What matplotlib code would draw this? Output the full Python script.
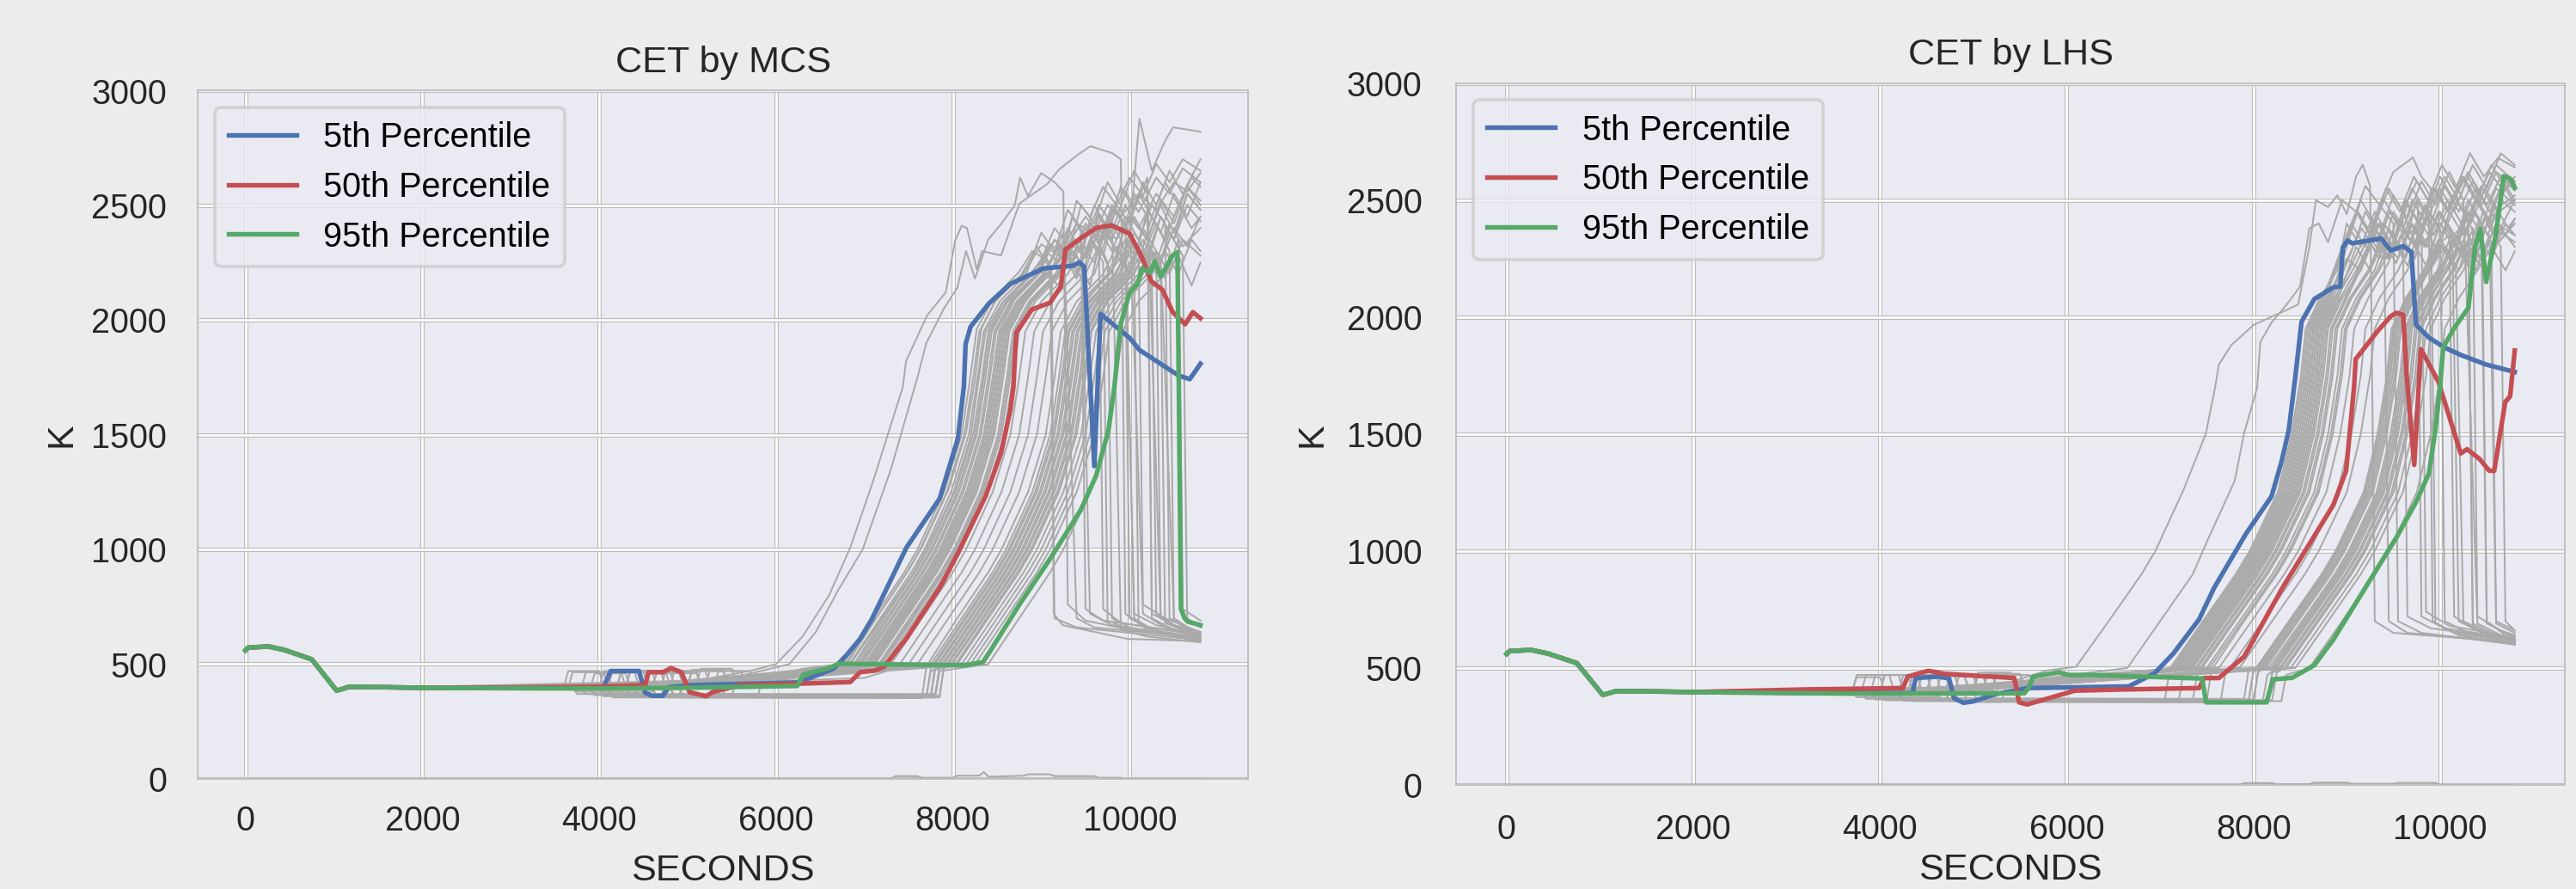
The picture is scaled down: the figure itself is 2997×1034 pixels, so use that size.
import matplotlib
matplotlib.use("Agg")
import matplotlib.pyplot as plt
import matplotlib.patheffects as pe

# ---------------- data ----------------
TITLES = ["CET by MCS", "CET by LHS"]
X_LABEL = "SECONDS"
Y_LABEL = "K"
LEGEND_LABELS = ["5th Percentile", "50th Percentile", "95th Percentile"]
X_TICKS = [0, 2000, 4000, 6000, 8000, 10000]
Y_TICKS = [0, 500, 1000, 1500, 2000, 2500, 3000]

# common start of every run (s, K)
START_T = [0, 30, 260, 440, 750, 1030, 1080, 1170]
START_K = [560, 572, 577, 562, 521, 385, 390, 401]

# ---- MCS percentile runs ----
P5_MCS_T = [1500, 2000, 3000, 4050, 4130, 4450, 4520, 4600, 4720, 4790, 5070, 6250, 6450, 6650, 6800, 6950,
            7085, 7475, 7850, 8057, 8124, 8144, 8200, 8406, 8650, 9030, 9360, 9430, 9485, 9600, 9670, 10000,
            10110, 10555, 10680, 10800]
P5_MCS_K = [400, 397, 396, 400, 470, 470, 375, 362, 362, 400, 409, 420, 450, 480, 540, 610,
            697, 1008, 1221, 1483, 1708, 1895, 1970, 2071, 2157, 2225, 2236, 2251, 2232, 1363, 2026, 1921,
            1869, 1757, 1742, 1809]
P50_MCS_T = [1500, 2000, 3000, 4000, 4520, 4560, 4725, 4810, 4930, 5022, 5210, 5280, 5597, 6254, 6840, 6950,
             7120, 7226, 7470, 7855, 8060, 8370, 8545, 8650, 8685, 8717, 8892, 9100, 9222, 9273, 9447, 9621,
             9796, 10000, 10141, 10242, 10370, 10486, 10627, 10714, 10800]
P50_MCS_K = [400, 397, 398, 402, 409, 465, 465, 483, 465, 378, 360, 378, 409, 415, 422, 465,
             472, 490, 610, 835, 985, 1232, 1420, 1607, 1708, 1944, 2045, 2075, 2146, 2307, 2356, 2401,
             2412, 2375, 2270, 2169, 2131, 2034, 1981, 2034, 2007]
P95_MCS_T = [1500, 2000, 3000, 4000, 5000, 6240, 6310, 6600, 6710, 7500, 8130, 8340, 8406, 8753, 9100, 9447,
             9621, 9760, 9827, 9897, 10000, 10090, 10141, 10230, 10283, 10350, 10486, 10540, 10580, 10620,
             10660, 10800]
P95_MCS_K = [400, 397, 395, 394, 397, 405, 455, 483, 502, 498, 495, 509, 547, 760, 959, 1172,
             1322, 1520, 1708, 1981, 2120, 2157, 2226, 2206, 2255, 2188, 2281, 2295, 740, 700,
             685, 670]

# ---- LHS percentile runs ----
P5_LHS_T = [1500, 2000, 3000, 4348, 4382, 4621, 4740, 4792, 4894, 4997, 5235, 5576, 6664, 6940, 7141, 7419,
            7580, 7921, 8194, 8300, 8378, 8448, 8516, 8653, 8857, 8930, 8958, 9010, 9060, 9369, 9471, 9604,
            9692, 9742, 9880, 10046, 10221, 10493, 10800]
P5_LHS_K = [400, 397, 396, 392, 457, 463, 455, 371, 351, 357, 388, 414, 421, 477, 561, 708,
            843, 1074, 1233, 1380, 1514, 1740, 1980, 2077, 2127, 2130, 2297, 2327, 2315, 2336, 2284, 2303,
            2278, 1967, 1912, 1870, 1838, 1797, 1765]
P50_LHS_T = [1500, 2000, 3190, 4246, 4295, 4517, 4689, 5438, 5490, 5576, 6087, 6599, 7417, 7474, 7630, 7902,
             8311, 8857, 8993, 9078, 9096, 9335, 9471, 9530, 9604, 9640, 9723, 9794, 9982, 10221, 10289,
             10424, 10526, 10580, 10698, 10750, 10800]
P50_LHS_K = [400, 397, 408, 414, 463, 488, 475, 457, 353, 344, 403, 408, 414, 457, 457, 549,
             842, 1197, 1343, 1698, 1820, 1942, 2003, 2018, 2010, 1760, 1368, 1863, 1723, 1417, 1435,
             1393, 1343, 1343, 1637, 1661, 1857]
P95_LHS_T = [1500, 2000, 3000, 4000, 5545, 5593, 5640, 5917, 6020, 6258, 7451, 7493, 8141, 8209, 8415, 8653,
             8857, 9198, 9539, 9742, 9880, 9948, 10000, 10033, 10153, 10304, 10374, 10433, 10493, 10595,
             10682, 10756, 10800]
P95_LHS_K = [400, 397, 392, 390, 392, 414, 463, 481, 470, 470, 455, 353, 353, 451, 458, 512,
             622, 842, 1062, 1209, 1331, 1514, 1700, 1870, 1954, 2040, 2297, 2376, 2150, 2347,
             2602, 2590, 2553]

# ---- individual MCS runs (grey), each continues START ----
MCS_RUNS = [
    [(1500, 397), (3600, 398), (3650, 470), (4000, 470), (4050, 400), (5000, 420), (5700, 470), (6000, 500), (6300, 620), (6600, 800), (6840, 1008), (7100, 1300), (7435, 1708), (7470, 1820), (7710, 2020), (7920, 2120), (8025, 2345), (8100, 2410), (8160, 2400), (8270, 2220), (8330, 2300), (8545, 2281), (8753, 2507), (9070, 2593), (9200, 2655), (9410, 2719), (9555, 2757), (9800, 2727), (9900, 2700), (9950, 720), (10200, 650), (10800, 610)],
    [(1500, 396), (4300, 395), (4350, 365), (4700, 365), (4750, 410), (5500, 440), (6150, 500), (6450, 640), (6700, 820), (6980, 1000), (7300, 1350), (7600, 1750), (7700, 1900), (7900, 2050), (8050, 2140), (8150, 2300), (8250, 2180), (8400, 2350), (8550, 2420), (8700, 2500), (8760, 2620), (8850, 2540), (9000, 2640), (9150, 2600), (9250, 2560), (9300, 760), (9500, 690), (10000, 650), (10800, 620)],
    [(1500, 398), (4100, 399), (4150, 470), (4500, 470), (4550, 405), (5800, 430), (6300, 480), (6750, 500), (7100, 700), (7450, 900), (7600, 1000), (7900, 1250), (8100, 1500), (8200, 1760), (8270, 1960), (8450, 2090), (8750, 2210), (8900, 2300), (9100, 2250), (9250, 2380), (9400, 700), (9600, 660), (10800, 615)],
    [(1500, 397), (3900, 395), (3950, 372), (4400, 372), (4450, 398), (6000, 420), (6500, 470), (6800, 500), (7150, 710), (7500, 910), (7650, 1010), (7950, 1260), (8150, 1510), (8250, 1740), (8320, 1960), (8500, 2100), (8800, 2200), (9000, 2330), (9200, 2280), (9400, 2420), (9600, 2380), (9750, 2500), (9900, 2450), (10100, 2550), (10300, 2480), (10500, 2600), (10650, 2560), (10800, 2640)],
    [(1500, 396), (4600, 398), (4650, 460), (5100, 460), (5150, 410), (6000, 440), (6500, 490), (6850, 505), (7200, 700), (7550, 895), (7700, 1000), (8000, 1240), (8200, 1490), (8300, 1760), (8370, 1950), (8550, 2070), (8850, 2190), (9050, 2280), (9120, 2200), (9140, 720), (9240, 670), (9975, 610), (10800, 600)],
    [(1500, 397), (3700, 398), (3750, 380), (4600, 380), (4650, 405), (6000, 430), (6880, 500), (7230, 705), (7580, 905), (7730, 1005), (8030, 1255), (8230, 1505), (8330, 1745), (8400, 1950), (8580, 2085), (8880, 2200), (9000, 2260), (9150, 2400), (9300, 2330), (9500, 2450), (9650, 2380), (9700, 740), (9900, 680), (10800, 625)],
    [(1500, 398), (4800, 400), (4850, 470), (5200, 470), (5250, 420), (6920, 495), (7270, 700), (7620, 900), (7770, 1000), (8070, 1250), (8270, 1500), (8370, 1750), (8440, 1950), (8620, 2080), (8920, 2190), (9100, 2330), (9250, 2290), (9400, 2520), (9550, 2450), (9700, 2580), (9850, 2500), (10000, 2620), (10150, 2540), (10300, 2680), (10450, 2600), (10600, 2700), (10800, 2650)],
    [(1500, 396), (4000, 396), (4050, 365), (4500, 365), (4550, 400), (6950, 500), (7300, 700), (7650, 900), (7800, 1000), (8100, 1250), (8300, 1500), (8400, 1750), (8470, 1950), (8650, 2080), (8950, 2200), (9150, 2350), (9350, 2280), (9500, 2400), (9650, 2300), (9800, 2480), (9950, 2420), (10050, 700), (10300, 640), (10800, 610)],
    [(1500, 397), (5100, 420), (5150, 480), (5500, 480), (5550, 430), (7000, 500), (7350, 700), (7700, 900), (7850, 1000), (8150, 1250), (8350, 1500), (8450, 1750), (8520, 1950), (8700, 2090), (9000, 2210), (9200, 2150), (9350, 2350), (9500, 2280), (9650, 2450), (9800, 2350), (9950, 2500), (10100, 2400), (10300, 2550), (10500, 2450), (10650, 2580), (10800, 2520)],
    [(1500, 398), (4200, 400), (4250, 470), (4600, 470), (4650, 400), (7040, 500), (7390, 700), (7740, 900), (7890, 1000), (8190, 1250), (8390, 1500), (8490, 1750), (8560, 1950), (8740, 2080), (9040, 2200), (9200, 2320), (9350, 2250), (9450, 2380), (9500, 740), (9700, 690), (10800, 630)],
    [(1500, 397), (4400, 398), (4450, 362), (4900, 362), (4950, 405), (7080, 500), (7430, 700), (7780, 900), (7930, 1000), (8230, 1250), (8430, 1500), (8530, 1750), (8600, 1950), (8780, 2080), (9080, 2200), (9250, 2300), (9400, 2200), (9550, 2420), (9700, 2350), (9850, 2480), (10000, 2380), (10110, 2876), (10250, 2650), (10400, 2780), (10490, 2839), (10800, 2820)],
    [(1500, 396), (3800, 397), (3850, 465), (4250, 465), (4300, 398), (7120, 500), (7470, 700), (7820, 900), (7970, 1000), (8270, 1250), (8470, 1500), (8570, 1750), (8640, 1950), (8820, 2080), (9120, 2220), (9300, 2300), (9450, 2180), (9600, 2380), (9750, 2250), (9800, 700), (10000, 660), (10800, 600)],
    [(1500, 397), (5300, 430), (5350, 370), (5800, 370), (5850, 440), (7160, 500), (7510, 700), (7860, 900), (8010, 1000), (8310, 1250), (8510, 1500), (8610, 1750), (8680, 1950), (8860, 2080), (9160, 2200), (9350, 2330), (9500, 2270), (9650, 2460), (9800, 2380), (9950, 2560), (10100, 2470), (10300, 2620), (10450, 2550), (10600, 2660), (10800, 2600)],
    [(1500, 398), (4500, 400), (4550, 470), (4900, 470), (4950, 410), (7200, 500), (7550, 700), (7900, 900), (8050, 1000), (8350, 1250), (8550, 1500), (8650, 1750), (8720, 1950), (8900, 2080), (9200, 2200), (9400, 2350), (9550, 2300), (9700, 2420), (9850, 2350), (10000, 2450), (10150, 720), (10400, 660), (10800, 620)],
    [(1500, 397), (3700, 398), (3750, 370), (4100, 370), (4150, 400), (7230, 500), (7580, 700), (7930, 900), (8080, 1000), (8380, 1250), (8580, 1500), (8680, 1750), (8750, 1950), (8930, 2080), (9230, 2200), (9400, 2280), (9550, 2150), (9700, 2400), (9850, 2300), (10000, 2450), (10200, 2350), (10350, 2500), (10500, 2380), (10650, 2550), (10800, 2480)],
    [(1500, 396), (4600, 395), (4650, 360), (5000, 360), (5050, 400), (7300, 500), (7650, 700), (8000, 900), (8150, 1000), (8450, 1250), (8650, 1500), (8750, 1750), (8820, 1950), (9000, 2080), (9300, 2200), (9450, 2330), (9600, 2250), (9750, 2450), (9900, 2350), (10050, 2550), (10200, 2450), (10250, 700), (10500, 650), (10800, 610)],
    [(1500, 397), (4000, 398), (4050, 470), (4400, 470), (4450, 400), (7400, 500), (7750, 700), (8100, 900), (8250, 1000), (8550, 1250), (8750, 1500), (8850, 1750), (8920, 1950), (9100, 2080), (9400, 2200), (9550, 2350), (9700, 2280), (9850, 2500), (10000, 2420), (10150, 2600), (10300, 2500), (10450, 2650), (10600, 2550), (10800, 2700)],
    [(1500, 398), (4300, 398), (4350, 470), (4800, 470), (4850, 410), (7000, 440), (7500, 500), (7850, 700), (8200, 900), (8350, 1000), (8650, 1250), (8850, 1500), (8950, 1750), (9020, 1950), (9200, 2080), (9500, 2200), (9650, 2320), (9800, 2200), (9950, 2420), (10050, 2300), (10100, 680), (10350, 640), (10800, 600)],
    [(1500, 397), (4700, 398), (4750, 365), (5400, 365), (5450, 420), (7600, 500), (7950, 700), (8300, 900), (8450, 1000), (8750, 1250), (8950, 1500), (9050, 1750), (9120, 1950), (9300, 2080), (9600, 2200), (9750, 2380), (9900, 2250), (10050, 2450), (10200, 2350), (10350, 2520), (10500, 2420), (10650, 2580), (10800, 2500)],
    [(1500, 397), (4100, 395), (4150, 355), (7650, 352), (7700, 490), (8050, 700), (8400, 900), (8550, 1000), (8850, 1250), (9050, 1500), (9150, 1750), (9220, 1950), (9400, 2080), (9700, 2200), (9850, 2320), (10000, 2200), (10150, 2400), (10300, 2300), (10350, 700), (10600, 650), (10800, 630)],
    [(1500, 398), (3900, 398), (3950, 460), (4300, 460), (4350, 400), (7750, 500), (8100, 700), (8450, 900), (8600, 1000), (8900, 1250), (9100, 1500), (9200, 1750), (9270, 1950), (9450, 2080), (9750, 2200), (9900, 2330), (10050, 2250), (10200, 2480), (10350, 2380), (10500, 2550), (10650, 2450), (10800, 2600)],
    [(1500, 396), (4500, 397), (4550, 365), (7750, 360), (7800, 500), (8150, 700), (8500, 900), (8650, 1000), (8950, 1250), (9150, 1500), (9250, 1750), (9320, 1950), (9500, 2080), (9800, 2220), (9950, 2300), (10050, 720), (10300, 670), (10800, 625)],
    [(1500, 397), (5200, 405), (5250, 470), (5600, 470), (5650, 420), (7850, 500), (8200, 700), (8550, 900), (8700, 1000), (9000, 1250), (9200, 1500), (9300, 1750), (9370, 1950), (9550, 2080), (9850, 2200), (10000, 2350), (10150, 2280), (10300, 2420), (10450, 2300), (10500, 690), (10700, 640), (10800, 630)],
    [(1500, 398), (4800, 398), (4850, 355), (7850, 355), (7900, 500), (8250, 700), (8600, 900), (8750, 1000), (9050, 1250), (9250, 1500), (9350, 1750), (9420, 1950), (9600, 2080), (9900, 2200), (10050, 2350), (10200, 2250), (10350, 2450), (10500, 2350), (10650, 2500), (10800, 2430)],
    [(1500, 397), (4200, 397), (4250, 470), (4700, 470), (4750, 405), (7950, 500), (8300, 700), (8650, 900), (8800, 1000), (9100, 1250), (9300, 1500), (9400, 1750), (9470, 1950), (9650, 2080), (9950, 2200), (10100, 2300), (10150, 760), (10400, 700), (10800, 640)],
    [(1500, 396), (4000, 396), (4050, 360), (7700, 358), (7750, 470), (8000, 505), (8350, 700), (8700, 900), (8850, 1000), (9150, 1250), (9350, 1500), (9450, 1750), (9520, 1950), (9700, 2080), (10000, 2200), (10150, 2300), (10300, 2200), (10450, 2380), (10600, 2280), (10650, 700), (10800, 660)],
    [(1500, 397), (5000, 410), (5050, 475), (5400, 475), (5450, 430), (8050, 500), (8400, 700), (8750, 900), (8900, 1000), (9200, 1250), (9400, 1500), (9500, 1750), (9570, 1950), (9750, 2080), (10050, 2200), (10200, 2330), (10350, 2250), (10500, 2400), (10650, 2320), (10800, 2450)],
    [(1500, 398), (4400, 398), (4450, 370), (7800, 370), (7850, 480), (8100, 500), (8450, 700), (8800, 900), (8950, 1000), (9250, 1250), (9450, 1500), (9550, 1750), (9620, 1950), (9800, 2080), (10100, 2200), (10250, 2300), (10400, 2180), (10550, 2350), (10600, 740), (10800, 690)],
    [(1500, 397), (4600, 397), (4650, 465), (5100, 465), (5150, 410), (8250, 500), (8600, 700), (8950, 900), (9100, 1000), (9400, 1250), (9600, 1500), (9700, 1750), (9770, 1950), (9950, 2080), (10250, 2200), (10400, 2300), (10550, 2200), (10700, 2350), (10800, 2300)],
    [(1500, 398), (4900, 398), (4950, 355), (7800, 355), (7850, 470), (8400, 500), (8750, 700), (9100, 900), (9250, 1000), (9550, 1250), (9750, 1500), (9850, 1750), (9920, 1950), (10100, 2080), (10400, 2200), (10550, 2280), (10700, 2150), (10800, 2250)],
    [(1500, 397), (4300, 397), (4350, 465), (4700, 465), (4750, 402), (6300, 460), (6780, 500), (7130, 700), (7480, 900), (7630, 1000), (7930, 1250), (8130, 1500), (8230, 1750), (8300, 1950), (8480, 2080), (8780, 2200), (8950, 2320), (9100, 2220), (9150, 700), (9400, 660), (10800, 605)],
    [(1500, 396), (4000, 396), (4050, 372), (4500, 372), (4550, 400), (6830, 500), (7180, 700), (7530, 900), (7680, 1000), (7980, 1250), (8180, 1500), (8280, 1750), (8350, 1950), (8530, 2080), (8830, 2200), (9000, 2380), (9150, 2300), (9300, 2480), (9450, 2400), (9550, 720), (9800, 670), (10800, 615)],
    [(1500, 398), (5000, 405), (5050, 470), (5400, 470), (5450, 420), (6900, 500), (7250, 700), (7600, 900), (7750, 1000), (8050, 1250), (8250, 1500), (8350, 1750), (8420, 1950), (8600, 2080), (8900, 2200), (9050, 2300), (9200, 2250), (9350, 2450), (9500, 2350), (9650, 2500), (9800, 2420), (9900, 650), (10200, 620), (10800, 595)],
    [(1500, 397), (3800, 397), (3850, 370), (4300, 370), (4350, 400), (6970, 500), (7320, 700), (7670, 900), (7820, 1000), (8120, 1250), (8320, 1500), (8420, 1750), (8490, 1950), (8670, 2080), (8970, 2200), (9150, 2350), (9300, 2280), (9450, 2500), (9600, 2420), (9750, 2600), (9900, 2500), (10050, 2650), (10200, 2550), (10350, 700), (10600, 650), (10800, 630)],
    [(1500, 396), (4700, 397), (4750, 470), (5100, 470), (5150, 410), (7020, 500), (7370, 700), (7720, 900), (7870, 1000), (8170, 1250), (8370, 1500), (8470, 1750), (8540, 1950), (8720, 2080), (9020, 2200), (9200, 2330), (9350, 2260), (9500, 2420), (9650, 2330), (9800, 2500), (9950, 2400), (10100, 2550), (10250, 2450), (10400, 2600), (10550, 2500), (10700, 2620), (10800, 2580)],
    [(1500, 398), (4400, 398), (4450, 360), (5000, 360), (5050, 410), (7060, 500), (7410, 700), (7760, 900), (7910, 1000), (8210, 1250), (8410, 1500), (8510, 1750), (8580, 1950), (8760, 2080), (9060, 2200), (9250, 2280), (9400, 2180), (9550, 2350), (9700, 2250), (9750, 690), (10000, 650), (10800, 610)],
    [(1500, 397), (3650, 398), (3700, 465), (4050, 465), (4100, 400), (7100, 500), (7450, 700), (7800, 900), (7950, 1000), (8250, 1250), (8450, 1500), (8550, 1750), (8620, 1950), (8800, 2080), (9100, 2200), (9300, 2400), (9450, 2300), (9600, 2500), (9750, 2400), (9900, 2580), (10050, 2480), (10200, 2620), (10250, 720), (10500, 670), (10800, 640)],
    [(1500, 396), (4900, 398), (4950, 365), (5500, 365), (5550, 420), (7180, 500), (7530, 700), (7880, 900), (8030, 1000), (8330, 1250), (8530, 1500), (8630, 1750), (8700, 1950), (8880, 2080), (9180, 2200), (9350, 2300), (9500, 2220), (9650, 2400), (9800, 2300), (9950, 2450), (10100, 2350), (10250, 2500), (10400, 2420), (10450, 700), (10700, 650), (10800, 640)],
    [(1500, 397), (4200, 397), (4250, 360), (7700, 356), (7750, 480), (7780, 500), (8130, 700), (8480, 900), (8630, 1000), (8930, 1250), (9130, 1500), (9230, 1750), (9300, 1950), (9480, 2080), (9780, 2200), (9950, 2350), (10100, 2250), (10250, 2450), (10400, 2350), (10550, 2500), (10700, 2400), (10800, 2450)],
    [(1500, 398), (4500, 398), (4550, 470), (4900, 470), (4950, 410), (7830, 500), (8180, 700), (8530, 900), (8680, 1000), (8980, 1250), (9180, 1500), (9280, 1750), (9350, 1950), (9530, 2080), (9830, 2200), (9950, 2280), (10000, 700), (10250, 650), (10800, 615)],
    [(1500, 396), (3900, 396), (3950, 365), (7800, 362), (7850, 490), (7880, 500), (8230, 700), (8580, 900), (8730, 1000), (9030, 1250), (9230, 1500), (9330, 1750), (9400, 1950), (9580, 2080), (9880, 2200), (10050, 2380), (10200, 2280), (10350, 2450), (10500, 2350), (10650, 2550), (10800, 2480)],
    [(1500, 397), (5300, 410), (5350, 470), (5700, 470), (5750, 425), (7930, 500), (8280, 700), (8630, 900), (8780, 1000), (9080, 1250), (9280, 1500), (9380, 1750), (9450, 1950), (9630, 2080), (9930, 2200), (10100, 2320), (10250, 2220), (10300, 720), (10550, 660), (10800, 630)],
    [(1500, 398), (4600, 398), (4650, 358), (7750, 355), (7800, 475), (7980, 500), (8330, 700), (8680, 900), (8830, 1000), (9130, 1250), (9330, 1500), (9430, 1750), (9500, 1950), (9680, 2080), (9980, 2200), (10150, 2350), (10300, 2250), (10450, 2420), (10600, 2320), (10800, 2400)],
    [(1500, 397), (4100, 397), (4150, 470), (4500, 470), (4550, 405), (8030, 500), (8380, 700), (8730, 900), (8880, 1000), (9180, 1250), (9380, 1500), (9480, 1750), (9550, 1950), (9730, 2080), (10030, 2200), (10200, 2300), (10350, 2200), (10400, 680), (10650, 640), (10800, 625)],
    [(1500, 396), (4800, 397), (4850, 365), (7850, 362), (7900, 485), (8150, 500), (8500, 700), (8850, 900), (9000, 1000), (9300, 1250), (9500, 1500), (9600, 1750), (9670, 1950), (9850, 2080), (10150, 2200), (10300, 2300), (10450, 2200), (10600, 2350), (10800, 2280)],
    [(1500, 398), (4300, 398), (4350, 470), (4750, 470), (4800, 410), (8200, 500), (8550, 700), (8900, 900), (9050, 1000), (9350, 1250), (9550, 1500), (9650, 1750), (9720, 1950), (9900, 2080), (10200, 2200), (10350, 2280), (10500, 700), (10700, 650), (10800, 640)],
]
MCS_LOW_RUN_T = [0, 7300, 7350, 7600, 7650, 8000, 8050, 8300, 8350, 8400, 8450, 8800, 8850, 9100, 9150, 9600, 9650, 9900, 9950, 10800]
MCS_LOW_RUN_K = [0, 0, 12, 12, 5, 5, 14, 14, 30, 10, 10, 14, 20, 20, 12, 12, 5, 5, 0, 0]

# ---- individual LHS runs (grey), each continues START ----
LHS_RUNS = [
    [(1500, 397), (3700, 398), (3750, 470), (4100, 470), (4150, 400), (5400, 440), (5800, 490), (6100, 505), (6450, 700), (6800, 900), (6950, 1000), (7250, 1260), (7490, 1500), (7590, 1700), (7630, 1797), (7766, 1881), (8005, 1967), (8300, 2020), (8479, 2053), (8600, 2300), (8670, 2500), (8800, 2470), (8900, 2520), (9000, 2440), (9100, 2600), (9171, 2651), (9250, 2560), (9300, 700), (9500, 650), (10800, 610)],
    [(1500, 396), (4300, 396), (4350, 365), (4800, 365), (4850, 410), (6650, 500), (7000, 700), (7350, 900), (7500, 1038), (7800, 1300), (7900, 1503), (8040, 1698), (8074, 1893), (8200, 1980), (8350, 2050), (8500, 2130), (8600, 2380), (8700, 2400), (8800, 2320), (8950, 2500), (9100, 2450), (9200, 2560), (9350, 2480), (9500, 2620), (9709, 2682), (9800, 2600), (9900, 2550), (9950, 690), (10200, 640), (10800, 600)],
    [(1500, 397), (4000, 398), (4050, 470), (4400, 470), (4450, 400), (6500, 450), (7110, 500), (7460, 700), (7810, 900), (7960, 1000), (8260, 1250), (8410, 1500), (8510, 1750), (8560, 1950), (8710, 2080), (8900, 2200), (9000, 2400), (9150, 2300), (9300, 2450), (9400, 2380), (9450, 700), (9650, 650), (10800, 610)],
    [(1500, 396), (4200, 396), (4250, 360), (4700, 360), (4750, 405), (7150, 500), (7500, 700), (7850, 900), (8000, 1000), (8300, 1250), (8450, 1500), (8550, 1750), (8600, 1950), (8750, 2080), (8950, 2300), (9100, 2450), (9250, 2350), (9400, 2500), (9550, 2400), (9700, 2550), (9850, 2450), (10000, 2600), (10150, 2500), (10300, 2620), (10450, 2520), (10600, 2650), (10800, 2580)],
    [(1500, 398), (4500, 400), (4550, 470), (4900, 470), (4950, 415), (7190, 500), (7540, 700), (7890, 900), (8040, 1000), (8340, 1250), (8490, 1500), (8590, 1750), (8640, 1950), (8790, 2080), (9000, 2250), (9150, 2200), (9300, 2380), (9450, 2250), (9600, 2420), (9650, 720), (9900, 670), (10800, 620)],
    [(1500, 397), (3900, 397), (3950, 375), (4600, 375), (4650, 405), (7230, 500), (7580, 700), (7930, 900), (8080, 1000), (8380, 1250), (8530, 1500), (8630, 1750), (8680, 1950), (8830, 2080), (9000, 2300), (9150, 2500), (9300, 2400), (9450, 2550), (9600, 2450), (9750, 2580), (9900, 2480), (10050, 2600), (10200, 2500), (10350, 2650), (10500, 2550), (10650, 2700), (10800, 2650)],
    [(1500, 396), (5000, 410), (5050, 480), (5400, 480), (5450, 430), (7270, 500), (7620, 700), (7970, 900), (8120, 1000), (8420, 1250), (8570, 1500), (8670, 1750), (8720, 1950), (8870, 2080), (9050, 2220), (9200, 2350), (9350, 2250), (9500, 2450), (9650, 2350), (9800, 2400), (9850, 740), (10100, 680), (10800, 630)],
    [(1500, 397), (4100, 398), (4150, 365), (7200, 360), (7250, 480), (7310, 500), (7660, 700), (8010, 900), (8160, 1000), (8460, 1250), (8610, 1500), (8710, 1750), (8760, 1950), (8910, 2080), (9100, 2300), (9250, 2200), (9400, 2400), (9550, 2300), (9700, 2500), (9850, 2400), (10000, 2550), (10150, 2450), (10300, 2600), (10450, 2480), (10600, 2620), (10800, 2560)],
    [(1500, 398), (4600, 398), (4650, 465), (5000, 465), (5050, 410), (7350, 500), (7700, 700), (8050, 900), (8200, 1000), (8500, 1250), (8650, 1500), (8750, 1750), (8800, 1950), (8950, 2080), (9150, 2200), (9300, 2350), (9450, 2250), (9600, 2450), (9750, 2300), (10000, 2380), (10050, 700), (10300, 650), (10800, 605)],
    [(1500, 397), (3700, 397), (3750, 460), (4000, 460), (4050, 400), (7400, 500), (7750, 700), (8100, 900), (8250, 1000), (8550, 1250), (8700, 1500), (8800, 1750), (8850, 1950), (9000, 2080), (9200, 2250), (9350, 2400), (9500, 2300), (9650, 2480), (9800, 2380), (9950, 2550), (10100, 2450), (10250, 2600), (10400, 2500), (10550, 2650), (10700, 2550), (10800, 2600)],
    [(1500, 396), (4800, 396), (4850, 355), (5300, 355), (5350, 420), (7450, 500), (7800, 700), (8150, 900), (8300, 1000), (8600, 1250), (8750, 1500), (8850, 1750), (8900, 1950), (9050, 2080), (9250, 2200), (9400, 2330), (9550, 2250), (9700, 2400), (9850, 2300), (10000, 2450), (10150, 2350), (10300, 2420), (10350, 690), (10600, 640), (10800, 620)],
    [(1500, 397), (4300, 398), (4350, 470), (4700, 470), (4750, 405), (7500, 500), (7850, 700), (8200, 900), (8350, 1000), (8650, 1250), (8800, 1500), (8900, 1750), (8950, 1950), (9100, 2080), (9300, 2200), (9450, 2380), (9600, 2280), (9750, 2500), (9900, 2400), (10050, 2560), (10200, 2450), (10350, 2580), (10500, 2480), (10650, 2600), (10800, 2540)],
    [(1500, 398), (5200, 420), (5250, 360), (7500, 360), (7550, 490), (7900, 700), (8250, 900), (8400, 1000), (8700, 1250), (8850, 1500), (8950, 1750), (9000, 1950), (9150, 2080), (9350, 2200), (9500, 2320), (9650, 2220), (9800, 2400), (9950, 2300), (10100, 2350), (10150, 720), (10400, 660), (10800, 615)],
    [(1500, 397), (4000, 397), (4050, 470), (4500, 470), (4550, 410), (7630, 500), (7980, 700), (8330, 900), (8480, 1000), (8780, 1250), (8930, 1500), (9030, 1750), (9080, 1950), (9230, 2080), (9430, 2220), (9580, 2350), (9730, 2250), (9880, 2450), (10030, 2350), (10180, 2500), (10330, 2400), (10480, 2550), (10630, 2450), (10800, 2500)],
    [(1500, 396), (4400, 396), (4450, 365), (7650, 362), (7700, 480), (7750, 500), (8100, 700), (8450, 900), (8600, 1000), (8900, 1250), (9050, 1500), (9150, 1750), (9200, 1950), (9350, 2080), (9550, 2200), (9700, 2330), (9850, 2220), (10000, 2400), (10150, 2300), (10300, 2450), (10350, 680), (10600, 630), (10800, 600)],
    [(1500, 397), (4700, 398), (4750, 470), (5100, 470), (5150, 410), (7850, 500), (8200, 700), (8550, 900), (8700, 1000), (9000, 1250), (9150, 1500), (9250, 1750), (9300, 1950), (9450, 2080), (9650, 2200), (9800, 2350), (9950, 2250), (10100, 2450), (10250, 2350), (10400, 2500), (10550, 2400), (10700, 2550), (10800, 2480)],
    [(1500, 398), (3800, 398), (3850, 368), (7950, 365), (8000, 490), (8050, 510), (8400, 700), (8750, 900), (8900, 1000), (9200, 1250), (9350, 1500), (9450, 1750), (9500, 1950), (9650, 2080), (9850, 2200), (10000, 2330), (10150, 2250), (10300, 2450), (10450, 2350), (10500, 700), (10700, 640), (10800, 625)],
    [(1500, 397), (4200, 397), (4250, 470), (4600, 470), (4650, 410), (6500, 480), (8050, 500), (8400, 700), (8750, 900), (8900, 1000), (9200, 1250), (9350, 1500), (9450, 1750), (9500, 1950), (9650, 2080), (9850, 2220), (10000, 2400), (10150, 2300), (10300, 2500), (10450, 2400), (10600, 2550), (10800, 2480)],
    [(1500, 396), (5000, 400), (5050, 355), (8000, 352), (8050, 480), (8090, 500), (8440, 700), (8790, 900), (8940, 1000), (9240, 1250), (9390, 1500), (9490, 1750), (9540, 1950), (9690, 2080), (9890, 2200), (10050, 2300), (10200, 2200), (10350, 2380), (10400, 720), (10650, 660), (10800, 640)],
    [(1500, 397), (4500, 398), (4550, 465), (5000, 465), (5050, 415), (8130, 500), (8480, 700), (8830, 900), (8980, 1000), (9280, 1250), (9430, 1500), (9530, 1750), (9580, 1950), (9730, 2080), (9930, 2250), (10080, 2400), (10230, 2300), (10380, 2500), (10530, 2400), (10680, 2600), (10800, 2550)],
    [(1500, 398), (4100, 398), (4150, 370), (7900, 368), (7950, 495), (8170, 505), (8520, 700), (8870, 900), (9020, 1000), (9320, 1250), (9470, 1500), (9570, 1750), (9620, 1950), (9770, 2080), (9970, 2200), (10120, 2350), (10270, 2250), (10420, 2420), (10550, 2320), (10600, 690), (10800, 650)],
    [(1500, 397), (3900, 397), (3950, 470), (4300, 470), (4350, 405), (8210, 500), (8560, 700), (8910, 900), (9060, 1000), (9360, 1250), (9510, 1500), (9610, 1750), (9660, 1950), (9810, 2080), (10010, 2200), (10160, 2350), (10310, 2250), (10460, 2450), (10610, 2350), (10800, 2500)],
    [(1500, 396), (4600, 396), (4650, 360), (8100, 358), (8150, 470), (8250, 500), (8600, 700), (8950, 900), (9100, 1000), (9400, 1250), (9550, 1500), (9650, 1750), (9700, 1950), (9850, 2080), (10050, 2200), (10200, 2300), (10350, 2200), (10500, 2400), (10650, 2300), (10700, 700), (10800, 660)],
    [(1500, 397), (5100, 405), (5150, 475), (5500, 475), (5550, 425), (8300, 500), (8650, 700), (9000, 900), (9150, 1000), (9450, 1250), (9600, 1500), (9700, 1750), (9750, 1950), (9900, 2080), (10100, 2220), (10250, 2380), (10400, 2280), (10550, 2450), (10700, 2350), (10800, 2420)],
    [(1500, 398), (4300, 398), (4350, 365), (8150, 362), (8200, 480), (8350, 500), (8700, 700), (9050, 900), (9200, 1000), (9500, 1250), (9650, 1500), (9750, 1750), (9800, 1950), (9950, 2080), (10150, 2200), (10300, 2330), (10450, 2250), (10600, 2400), (10800, 2350)],
    [(1500, 397), (4800, 397), (4850, 470), (5200, 470), (5250, 415), (8400, 500), (8750, 700), (9100, 900), (9250, 1000), (9550, 1250), (9700, 1500), (9800, 1750), (9850, 1950), (10000, 2080), (10200, 2200), (10350, 2300), (10500, 2200), (10650, 2380), (10800, 2300)],
    [(1500, 396), (3700, 396), (3750, 375), (4200, 375), (4250, 400), (8450, 500), (8800, 700), (9150, 900), (9300, 1000), (9600, 1250), (9750, 1500), (9850, 1750), (9900, 1950), (10050, 2080), (10250, 2200), (10400, 2350), (10550, 2250), (10700, 2400), (10800, 2350)],
    [(1500, 397), (4500, 397), (4550, 360), (8300, 358), (8350, 470), (8600, 500), (8950, 700), (9300, 900), (9450, 1000), (9750, 1250), (9900, 1500), (10000, 1750), (10050, 1950), (10200, 2080), (10400, 2200), (10550, 2300), (10700, 2200), (10800, 2280)],
    [(1500, 398), (4400, 398), (4450, 470), (4800, 470), (4850, 405), (7130, 500), (7480, 700), (7830, 900), (7980, 1000), (8280, 1250), (8430, 1500), (8530, 1750), (8580, 1950), (8730, 2080), (8930, 2250), (9050, 2400), (9200, 2300), (9350, 2480), (9500, 2400), (9550, 700), (9800, 650), (10800, 600)],
    [(1500, 397), (4000, 397), (4050, 362), (7050, 360), (7100, 485), (7170, 500), (7520, 700), (7870, 900), (8020, 1000), (8320, 1250), (8470, 1500), (8570, 1750), (8620, 1950), (8770, 2080), (8970, 2300), (9120, 2450), (9270, 2350), (9420, 2550), (9570, 2450), (9720, 2600), (9870, 2500), (10020, 2650), (10170, 2550), (10320, 2700), (10470, 2600), (10620, 2680), (10800, 2640)],
    [(1500, 396), (5000, 405), (5050, 465), (5400, 465), (5450, 420), (7210, 500), (7560, 700), (7910, 900), (8060, 1000), (8360, 1250), (8510, 1500), (8610, 1750), (8660, 1950), (8810, 2080), (9010, 2250), (9160, 2380), (9310, 2280), (9460, 2450), (9610, 2350), (9760, 2500), (9800, 720), (10050, 670), (10800, 625)],
    [(1500, 397), (4600, 397), (4650, 370), (5200, 370), (5250, 410), (7250, 500), (7600, 700), (7950, 900), (8100, 1000), (8400, 1250), (8550, 1500), (8650, 1750), (8700, 1950), (8850, 2080), (9050, 2280), (9200, 2450), (9350, 2350), (9500, 2520), (9650, 2420), (9800, 2580), (9950, 2480), (10100, 2620), (10250, 2500), (10400, 690), (10650, 640), (10800, 630)],
    [(1500, 398), (3800, 398), (3850, 470), (4200, 470), (4250, 400), (7290, 500), (7640, 700), (7990, 900), (8140, 1000), (8440, 1250), (8590, 1500), (8690, 1750), (8740, 1950), (8890, 2080), (9090, 2220), (9240, 2350), (9390, 2250), (9540, 2420), (9690, 2320), (9840, 2480), (9990, 2380), (10140, 2520), (10290, 2420), (10440, 2560), (10590, 2460), (10800, 2520)],
    [(1500, 397), (4300, 397), (4350, 358), (4900, 358), (4950, 410), (7330, 500), (7680, 700), (8030, 900), (8180, 1000), (8480, 1250), (8630, 1500), (8730, 1750), (8780, 1950), (8930, 2080), (9130, 2220), (9280, 2350), (9430, 2250), (9580, 2400), (9730, 2300), (9880, 2450), (9920, 700), (10150, 650), (10800, 610)],
    [(1500, 396), (4700, 398), (4750, 470), (5100, 470), (5150, 415), (7380, 500), (7730, 700), (8080, 900), (8230, 1000), (8530, 1250), (8680, 1500), (8780, 1750), (8830, 1950), (8980, 2080), (9180, 2250), (9330, 2400), (9480, 2300), (9630, 2500), (9780, 2400), (9930, 2550), (10080, 2450), (10230, 2600), (10380, 2500), (10530, 2620), (10680, 2540), (10800, 2580)],
    [(1500, 397), (3900, 397), (3950, 365), (7350, 362), (7400, 480), (7430, 500), (7780, 700), (8130, 900), (8280, 1000), (8580, 1250), (8730, 1500), (8830, 1750), (8880, 1950), (9030, 2080), (9230, 2200), (9380, 2330), (9530, 2230), (9680, 2400), (9830, 2300), (9980, 2450), (10130, 2350), (10200, 700), (10450, 650), (10800, 615)],
    [(1500, 398), (4500, 398), (4550, 470), (4900, 470), (4950, 410), (7530, 500), (7880, 700), (8230, 900), (8380, 1000), (8680, 1250), (8830, 1500), (8930, 1750), (8980, 1950), (9130, 2080), (9330, 2200), (9480, 2350), (9630, 2250), (9780, 2450), (9930, 2350), (10080, 2500), (10230, 2400), (10380, 2550), (10530, 2450), (10680, 2580), (10800, 2500)],
    [(1500, 397), (4200, 397), (4250, 360), (7950, 358), (8000, 480), (8030, 500), (8380, 700), (8730, 900), (8880, 1000), (9180, 1250), (9330, 1500), (9430, 1750), (9480, 1950), (9630, 2080), (9830, 2200), (9980, 2330), (10130, 2230), (10280, 2420), (10430, 2320), (10580, 2480), (10730, 2380), (10800, 2420)],
    [(1500, 396), (5100, 400), (5150, 470), (5500, 470), (5550, 420), (8070, 500), (8420, 700), (8770, 900), (8920, 1000), (9220, 1250), (9370, 1500), (9470, 1750), (9520, 1950), (9670, 2080), (9870, 2200), (10020, 2300), (10170, 2200), (10250, 700), (10500, 650), (10800, 620)],
    [(1500, 398), (3800, 398), (3850, 370), (8000, 366), (8050, 485), (8110, 500), (8460, 700), (8810, 900), (8960, 1000), (9260, 1250), (9410, 1500), (9510, 1750), (9560, 1950), (9710, 2080), (9910, 2220), (10060, 2380), (10210, 2280), (10360, 2450), (10510, 2350), (10660, 2500), (10800, 2450)],
    [(1500, 397), (4400, 397), (4450, 470), (4800, 470), (4850, 405), (8190, 500), (8540, 700), (8890, 900), (9040, 1000), (9340, 1250), (9490, 1500), (9590, 1750), (9640, 1950), (9790, 2080), (9990, 2200), (10140, 2320), (10290, 2220), (10440, 2400), (10500, 690), (10750, 640), (10800, 635)],
    [(1500, 396), (4700, 396), (4750, 358), (8150, 356), (8200, 475), (8230, 500), (8580, 700), (8930, 900), (9080, 1000), (9380, 1250), (9530, 1500), (9630, 1750), (9680, 1950), (9830, 2080), (10030, 2200), (10180, 2350), (10330, 2250), (10480, 2420), (10630, 2320), (10800, 2400)],
    [(1500, 398), (5200, 405), (5250, 470), (5600, 470), (5650, 425), (8280, 500), (8630, 700), (8980, 900), (9130, 1000), (9430, 1250), (9580, 1500), (9680, 1750), (9730, 1950), (9880, 2080), (10080, 2200), (10230, 2300), (10380, 2200), (10530, 2350), (10600, 700), (10800, 660)],
    [(1500, 397), (4000, 397), (4050, 365), (8200, 362), (8250, 480), (8330, 500), (8680, 700), (9030, 900), (9180, 1000), (9480, 1250), (9630, 1500), (9730, 1750), (9780, 1950), (9930, 2080), (10130, 2200), (10280, 2320), (10430, 2220), (10580, 2380), (10800, 2320)],
]
LHS_LOW_RUN_T = [0, 7850, 7900, 8200, 8250, 8600, 8650, 9000, 9050, 9500, 9550, 9950, 10000, 10800]
LHS_LOW_RUN_K = [0, 0, 8, 8, 3, 3, 10, 10, 5, 5, 9, 9, 0, 0]

# ---------------- style ----------------
plt.rcParams['font.family'] = ['Liberation Sans', 'DejaVu Sans']
DPI = 259
FIG_BG = '#ececec'
AX_BG = '#eaeaf2'
TXT = '#262626'
GREY = '#a9a9a9'
C_BLUE, C_RED, C_GREEN = '#4c72b0', '#c44e52', '#55a868'

fig = plt.figure(figsize=(2997.4 / DPI, 1034.4 / DPI), dpi=DPI, facecolor=FIG_BG)
ax1 = fig.add_axes([230 / 2997, 128 / 1034, 1222 / 2997, 800.5 / 1034])
ax2 = fig.add_axes([1694 / 2997, 121 / 1034, 1290 / 2997, 816 / 1034])

panels = [
    (ax1, TITLES[0], MCS_RUNS, (MCS_LOW_RUN_T, MCS_LOW_RUN_K),
     [(P5_MCS_T, P5_MCS_K), (P50_MCS_T, P50_MCS_K), (P95_MCS_T, P95_MCS_K)], 8.2, 10.0, 4.0, 5.3),
    (ax2, TITLES[1], LHS_RUNS, (LHS_LOW_RUN_T, LHS_LOW_RUN_K),
     [(P5_LHS_T, P5_LHS_K), (P50_LHS_T, P50_LHS_K), (P95_LHS_T, P95_LHS_K)], 9.0, 11.0, 5.5, 2.2),
]

for ax, title, runs, low, pcts, xpad, ypad, ylabpad, xlabpad in panels:
    ax.set_facecolor(AX_BG)
    for run in runs:
        ax.plot(START_T + [p[0] for p in run], START_K + [p[1] for p in run],
                color=GREY, lw=0.55, zorder=2)
    ax.plot(low[0], low[1], color=GREY, lw=0.55, zorder=2)
    for (t, k), c, lab in zip(pcts, [C_BLUE, C_RED, C_GREEN], LEGEND_LABELS):
        ax.plot(START_T + t, START_K + k, color=c, lw=1.5, label=lab, zorder=3)

    ax.set_ylim(Y_TICKS[0], Y_TICKS[-1])
    ax.set_xticks(X_TICKS)
    ax.set_yticks(Y_TICKS)
    ax.tick_params(axis='x', length=0, pad=xpad, labelsize=11, labelcolor=TXT)
    ax.tick_params(axis='y', length=0, pad=ypad, labelsize=11, labelcolor=TXT)
    ax.grid(True, color='white', lw=0.75)
    ax.set_axisbelow(True)
    for gl in ax.get_xgridlines() + ax.get_ygridlines():
        gl.set_path_effects([pe.Stroke(linewidth=1.3, foreground='#b4b4b4'), pe.Normal()])
    for sp in ax.spines.values():
        sp.set_color('#bdbdbd')
        sp.set_linewidth(0.5)
    ax.set_title(title, fontsize=12, color=TXT, pad=6)
    ax.set_xlabel(X_LABEL, fontsize=12, color=TXT, labelpad=xlabpad)
    ax.set_ylabel(Y_LABEL, fontsize=12, color=TXT, labelpad=ylabpad)
    ax.legend(loc='upper left', fontsize=11, frameon=True, fancybox=True,
              facecolor=AX_BG, edgecolor='0.8', framealpha=0.8)

fig.savefig('out.png', dpi=DPI, facecolor=FIG_BG)
